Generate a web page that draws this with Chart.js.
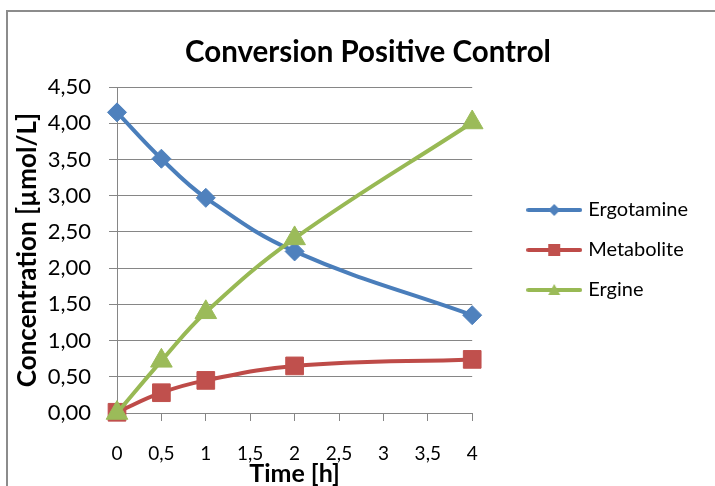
<!DOCTYPE html>
<html>
<head>
<meta charset="utf-8">
<script src="https://cdn.jsdelivr.net/npm/chart.js@4.4.1/dist/chart.umd.min.js"></script>
<style>
  body { margin: 0; background: #fff; overflow: hidden; }
  #wrap { position: relative; width: 715px; height: 486px; overflow: hidden; }
  #marco { position: absolute; left: 6px; top: 10px; width: 800px; height: 600px;
           border-left: 2px solid #8c8c8c; border-top: 2px solid #8c8c8c; }
  canvas { position: absolute; left: 0; top: 0; }
</style>
</head>
<body>
<div id="wrap">
  <div id="marco"></div>
  <canvas id="grafico" width="715" height="486"></canvas>
</div>
<script>
const horas = [0, 0.5, 1, 2, 4];
const ergotamina = [4.15, 3.51, 2.97, 2.23, 1.35];
const metabolito = [0.01, 0.28, 0.45, 0.65, 0.74];
const ergina = [0.0, 0.72, 1.39, 2.41, 4.01];
const nombres = ["Ergotamine", "Metabolite", "Ergine"];
const ticksX = [0, 0.5, 1, 1.5, 2, 2.5, 3, 3.5, 4];
const ticksY = [0, 0.5, 1, 1.5, 2, 2.5, 3, 3.5, 4, 4.5];

const lineas = ["#4a7ebb", "#be4b48", "#98b954"];
const rellenos = ["#4f81bd", "#c0504d", "#9bbb59"];
const formas = ["rectRot", "rect", "triangle"];
const radios = [9.5, 12.5, 12.5];

const fuente = "Lato, 'Open Sans', sans-serif";
const coma = (v, d) => v.toFixed(d).replace(".", ",");

// muestra de leyenda: linea con el marcador al centro
function muestra(i) {
  const c = document.createElement("canvas");
  c.width = 56; c.height = 20;
  const g = c.getContext("2d");
  g.strokeStyle = lineas[i];
  g.lineWidth = 4;
  g.lineCap = "round";
  g.beginPath(); g.moveTo(2, 10); g.lineTo(54, 10); g.stroke();
  g.fillStyle = rellenos[i];
  g.beginPath();
  if (i === 0) { g.moveTo(28, 4); g.lineTo(34, 10); g.lineTo(28, 16); g.lineTo(22, 10); }
  else if (i === 1) { g.rect(22, 4, 12, 12); }
  else { g.moveTo(28, 4); g.lineTo(34, 15); g.lineTo(22, 15); }
  g.closePath(); g.fill();
  return c;
}

function serie(i, valores) {
  return {
    label: nombres[i],
    data: horas.map((h, k) => ({ x: h, y: valores[k] })),
    borderColor: lineas[i],
    backgroundColor: rellenos[i],
    borderWidth: 4,
    pointStyle: formas[i],
    pointRadius: radios[i],
    pointHoverRadius: radios[i],
    pointBackgroundColor: rellenos[i],
    pointBorderColor: rellenos[i],
    pointBorderWidth: 1,
    tension: 0.4,
    clip: false,
    order: 2 - i,
  };
}

const ctx = document.getElementById("grafico").getContext("2d");
const chart = new Chart(ctx, {
  type: "line",
  data: {
    datasets: [serie(0, ergotamina), serie(1, metabolito), serie(2, ergina)],
  },
  options: {
    responsive: false,
    animation: false,
    layout: { padding: { left: 38, right: 17, top: 0, bottom: 0 } },
    plugins: {
      tooltip: { enabled: false },
      title: {
        display: true,
        text: "Conversion Positive Control",
        color: "#000",
        font: { family: fuente, size: 29.5, weight: "bold" },
        padding: { top: 34.3, bottom: 17.3 },
      },
      legend: {
        position: "right",
        fullSize: false,
        align: "center",
        maxWidth: 300,
        labels: {
          usePointStyle: true,
          pointStyleWidth: 48,
          padding: 20,
          color: "#000",
          font: { family: fuente, size: 20 },
          generateLabels: (c) => c.data.datasets.map((d, i) => ({
            text: d.label,
            pointStyle: muestra(i),
            fillStyle: rellenos[i],
            strokeStyle: lineas[i],
            lineWidth: 0,
            datasetIndex: i,
            hidden: false,
          })),
        },
      },
    },
    scales: {
      x: {
        type: "linear",
        min: 0,
        max: 4,
        afterBuildTicks: (s) => { s.ticks = ticksX.map((v) => ({ value: v })); },
        afterFit: (s) => { s.height = 73; },
        grid: { drawOnChartArea: false, drawTicks: true, tickLength: 8, color: "#868686", lineWidth: 1 },
        border: { display: true, color: "#868686", width: 1 },
        ticks: {
          color: "#000",
          padding: 21,
          maxRotation: 0,
          font: { family: fuente, size: 19 },
          callback: (v) => coma(v, v % 1 === 0 ? 0 : 1),
        },
        title: {
          display: true,
          text: "Time [h]",
          color: "#000",
          font: { family: fuente, size: 25, weight: "bold" },
          padding: { top: 0, bottom: -3 },
        },
      },
      y: {
        min: 0,
        max: 4.5,
        afterBuildTicks: (s) => { s.ticks = ticksY.map((v) => ({ value: v })); },
        afterFit: (s) => { s.width = 79; },
        grid: { color: "#868686", lineWidth: 1, tickLength: 8 },
        border: { display: true, color: "#868686", width: 1 },
        ticks: {
          color: "#000",
          padding: 18,
          font: { family: fuente, size: 22 },
          callback: (v) => coma(v, 2),
        },
        title: {
          display: true,
          text: "Concentration [µmol/L]",
          color: "#000",
          font: { family: fuente, size: 26, weight: "bold" },
          padding: { top: -25.6, bottom: 0 },
        },
      },
      hueco: {
        type: "linear",
        position: "right",
        display: true,
        afterFit: (s) => { s.width = 38; },
        grid: { display: false },
        border: { display: false },
        ticks: { display: false },
      },
    },
  },
});
</script>
</body>
</html>
